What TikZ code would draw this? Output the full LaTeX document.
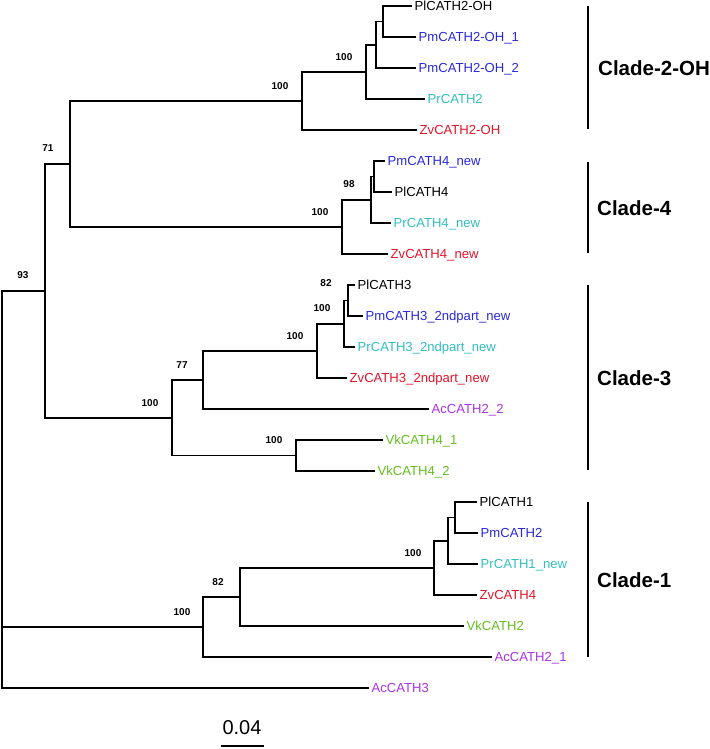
\documentclass[tikz,border=0pt]{standalone}
\usepackage{fontspec}
\setmainfont{Liberation Sans}
\usetikzlibrary{calc}
\definecolor{tblue}{RGB}{40,40,220}
\definecolor{tcyan}{RGB}{50,190,190}
\definecolor{tred}{RGB}{225,20,40}
\definecolor{tpurple}{RGB}{170,50,230}
\definecolor{tgreen}{RGB}{100,190,30}
\tikzset{
  br/.style={line width=1.7pt, line join=miter, black},
  leaf/.style={anchor=west, inner xsep=2.5pt, inner ysep=0pt, text height=9.4pt, text depth=0pt, font=\fontsize{13.1}{15}\selectfont},
  bs/.style={inner sep=0pt, font=\bfseries\fontsize{10}{12}\selectfont},
  clade/.style={anchor=west, inner sep=0pt, font=\bfseries\fontsize{20.5}{24}\selectfont},
  cbar/.style={line width=1.8pt}
}
\begin{document}
\begin{tikzpicture}[x=1pt,y=-1pt]
\useasboundingbox (0,0) rectangle (709,749);
% leaves
\node[leaf] (L1) at (412,6) {PlCATH2-OH};
\node[leaf,tblue] (L2) at (416,37) {PmCATH2-OH\_1};
\node[leaf,tblue] (L3) at (416,68) {PmCATH2-OH\_2};
\node[leaf,tcyan] (L4) at (425,99) {PrCATH2};
\node[leaf,tred] (L5) at (417,130) {ZvCATH2-OH};
\node[leaf,tblue] (L6) at (385,161) {PmCATH4\_new};
\node[leaf] (L7) at (392,192) {PlCATH4};
\node[leaf,tcyan] (L8) at (391,223) {PrCATH4\_new};
\node[leaf,tred] (L9) at (388,254) {ZvCATH4\_new};
\node[leaf] (L10) at (355,285) {PlCATH3};
\node[leaf,tblue] (L11) at (363,316) {PmCATH3\_2ndpart\_new};
\node[leaf,tcyan] (L12) at (355,347) {PrCATH3\_2ndpart\_new};
\node[leaf,tred] (L13) at (347,378) {ZvCATH3\_2ndpart\_new};
\node[leaf,tpurple] (L14) at (429,409) {AcCATH2\_2};
\node[leaf,tgreen] (L15) at (383,440) {VkCATH4\_1};
\node[leaf,tgreen] (L16) at (375,471) {VkCATH4\_2};
\node[leaf] (L17) at (477,502) {PlCATH1};
\node[leaf,tblue] (L18) at (478,533) {PmCATH2};
\node[leaf,tcyan] (L19) at (478,564) {PrCATH1\_new};
\node[leaf,tred] (L20) at (477,595) {ZvCATH4};
\node[leaf,tgreen] (L21) at (464,626) {VkCATH2};
\node[leaf,tpurple] (L22) at (492,657) {AcCATH2\_1};
\node[leaf,tpurple] (L23) at (369,688) {AcCATH3};
% internal nodes
\coordinate (a1) at (383,21.5);
\coordinate (a2) at (376,44.75);
\coordinate (a3) at (366,71.9);
\coordinate (a4) at (302,100.9);
\coordinate (b1) at (374,176.5);
\coordinate (b2) at (371,199.75);
\coordinate (b3) at (342,226.9);
\coordinate (e1) at (70,163.9);
\coordinate (c1) at (348,300.5);
\coordinate (c2) at (344,323.75);
\coordinate (c3) at (317,350.9);
\coordinate (c4) at (203,379.9);
\coordinate (v1) at (296,455.5);
\coordinate (c5) at (172,417.7);
\coordinate (e2) at (45,290.8);
\coordinate (d1) at (455,517.5);
\coordinate (d2) at (448,540.75);
\coordinate (d3) at (434,567.9);
\coordinate (d4) at (240,596.9);
\coordinate (d5) at (203,626.9);
\coordinate (root) at (2,490);
% branches
\draw[br] (a1) |- (L1.west); \draw[br] (a1) |- (L2.west);
\draw[br] (a2) |- (a1); \draw[br] (a2) |- (L3.west);
\draw[br] (a3) |- (a2); \draw[br] (a3) |- (L4.west);
\draw[br] (a4) |- (a3); \draw[br] (a4) |- (L5.west);
\draw[br] (b1) |- (L6.west); \draw[br] (b1) |- (L7.west);
\draw[br] (b2) |- (b1); \draw[br] (b2) |- (L8.west);
\draw[br] (b3) |- (b2); \draw[br] (b3) |- (L9.west);
\draw[br] (e1) |- (a4); \draw[br] (e1) |- (b3);
\draw[br] (c1) |- (L10.west); \draw[br] (c1) |- (L11.west);
\draw[br] (c2) |- (c1); \draw[br] (c2) |- (L12.west);
\draw[br] (c3) |- (c2); \draw[br] (c3) |- (L13.west);
\draw[br] (c4) |- (c3); \draw[br] (c4) |- (L14.west);
\draw[br] (v1) |- (L15.west); \draw[br] (v1) |- (L16.west);
\draw[br] (c5) |- (c4); \draw[br] (c5) |- (v1);
\draw[br] (e2) |- (e1); \draw[br] (e2) |- (c5);
\draw[br] (d1) |- (L17.west); \draw[br] (d1) |- (L18.west);
\draw[br] (d2) |- (d1); \draw[br] (d2) |- (L19.west);
\draw[br] (d3) |- (d2); \draw[br] (d3) |- (L20.west);
\draw[br] (d4) |- (d3); \draw[br] (d4) |- (L21.west);
\draw[br] (d5) |- (d4); \draw[br] (d5) |- (L22.west);
\draw[br] (root) |- (e2); \draw[br] (root) |- (d5); \draw[br] (root) |- (L23.west);
% bootstrap values
\node[bs] (s-a3) at ($(a3)+(-22,-15)$) {100};
\node[bs] (s-a4) at ($(a4)+(-22,-15)$) {100};
\node[bs] (s-b2) at ($(b2)+(-22,-16)$) {98};
\node[bs] (s-b3) at ($(b3)+(-22,-15)$) {100};
\node[bs] (s-e1) at ($(e1)+(-22,-16)$) {71};
\node[bs] (s-c1) at ($(c1)+(-22,-17)$) {82};
\node[bs] (s-c2) at ($(c2)+(-22,-15.5)$) {100};
\node[bs] (s-c3) at ($(c3)+(-22,-15)$) {100};
\node[bs] (s-c4) at ($(c4)+(-21,-15)$) {77};
\node[bs] (s-v1) at ($(v1)+(-22,-15)$) {100};
\node[bs] (s-c5) at ($(c5)+(-22,-14.5)$) {100};
\node[bs] (s-e2) at ($(e2)+(-22,-16)$) {93};
\node[bs] (s-d3) at ($(d3)+(-21,-15)$) {100};
\node[bs] (s-d4) at ($(d4)+(-22,-14.5)$) {82};
\node[bs] (s-d5) at ($(d5)+(-21,-14.5)$) {100};
% clade bars
\coordinate (k1t) at (588,6); \coordinate (k1b) at (588,129);
\coordinate (k2t) at (588,162); \coordinate (k2b) at (588,253);
\coordinate (k3t) at (588,285); \coordinate (k3b) at (588,470);
\coordinate (k4t) at (588,502); \coordinate (k4b) at (588,657);
\draw[cbar] (k1t) -- (k1b);
\draw[cbar] (k2t) -- (k2b);
\draw[cbar] (k3t) -- (k3b);
\draw[cbar] (k4t) -- (k4b);
\node[clade] (C1) at (598,68) {Clade-2-OH};
\node[clade] (C2) at (597,208) {Clade-4};
\node[clade] (C3) at (597,378) {Clade-3};
\node[clade] (C4) at (597,580) {Clade-1};
% scale bar
\node[inner sep=0pt, font=\fontsize{20}{24}\selectfont] (sc) at (242,728) {0.04};
\coordinate (sb1) at (221,746); \coordinate (sb2) at (264,746);
\draw[line width=1.6pt] (sb1) -- (sb2);
\end{tikzpicture}
\end{document}
